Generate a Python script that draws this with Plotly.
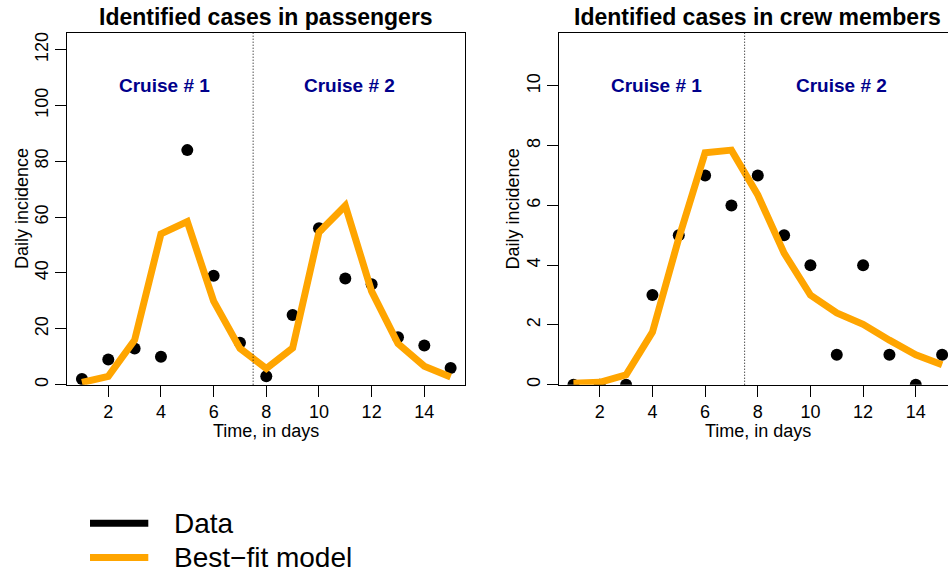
import plotly.graph_objects as go

# ---------------- data ----------------
days = list(range(1, 16))
pass_data = [2, 9, 13, 10, 84, 39, 15, 3, 25, 56, 38, 36, 17, 14, 6]
pass_model = [0.8, 3.0, 16.0, 54.0, 58.4, 29.9, 13.0, 5.8, 13.1, 54.6, 64.1, 33.4, 14.7, 6.6, 2.8]
crew_data = [0, 0, 0, 3, 5, 7, 6, 7, 5, 4, 1, 4, 1, 0, 1]
crew_model = [0.05, 0.08, 0.33, 1.76, 4.9, 7.76, 7.85, 6.35, 4.4, 3.0, 2.4, 2.02, 1.49, 1.0, 0.67]

x_ticks = [2, 4, 6, 8, 10, 12, 14]
pass_y_ticks = [0, 20, 40, 60, 80, 100, 120]
crew_y_ticks = [0, 2, 4, 6, 8, 10]

panel_titles = ["Identified cases in passengers", "Identified cases in crew members"]
x_title = "Time, in days"
y_title = "Daily incidence"
cruise_labels = ["Cruise # 1", "Cruise # 2"]
cruise_label_x = [4.15, 11.17]
cruise_split = 7.5
legend_labels = ["Data", "Best\u2212fit model"]

# ---------------- style ----------------
W, H = 948, 579
FONT = "Liberation Sans, Arial, Helvetica, sans-serif"
ORANGE = "#FFA500"
NAVY = "#00008B"

def px_x(p):
    return p / W

def px_y(p):
    return 1 - p / H

y_dom = [px_y(385.7), px_y(32.0)]
left_dom = [px_x(67.2), px_x(465.4)]
right_dom = [px_x(558.7), 1.0]

pass_top = 1.5 * max(max(pass_data), max(pass_model))
crew_top = 1.5 * max(max(crew_data), max(crew_model))

fig = go.Figure()

panels = [
    ("x", "y", pass_data, pass_model),
    ("x2", "y2", crew_data, crew_model),
]
for xa, ya, dat, mod in panels:
    fig.add_trace(go.Scatter(
        x=days, y=dat, mode="markers", xaxis=xa, yaxis=ya,
        marker=dict(color="black", size=12, line=dict(width=0)),
        showlegend=False, hoverinfo="x+y",
    ))
    fig.add_trace(go.Scatter(
        x=days, y=mod, mode="lines", xaxis=xa, yaxis=ya,
        line=dict(color=ORANGE, width=7),
        showlegend=False, hoverinfo="x+y",
    ))

axis_common = dict(
    showgrid=False, zeroline=False, showline=True, linecolor="black", linewidth=1,
    ticks="outside", ticklen=11, tickwidth=1, tickcolor="black",
    tickfont=dict(family=FONT, size=18, color="black"),
)

fig.update_layout(
    width=W, height=H,
    margin=dict(l=0, r=0, t=0, b=0),
    paper_bgcolor="white", plot_bgcolor="white",
    font=dict(family=FONT, color="black"),
    showlegend=False,
    xaxis=dict(domain=left_dom, range=[0.44, 15.56], tickvals=x_ticks, anchor="y",
               mirror=True, **axis_common),
    yaxis=dict(domain=y_dom, range=[0, pass_top], tickvals=pass_y_ticks, anchor="x",
               tickangle=-90, mirror=True, **axis_common),
    xaxis2=dict(domain=right_dom, range=[0.44, 0.44 + (W - 558.7) / 26.333], tickvals=x_ticks,
                anchor="y2", mirror=True, **axis_common),
    yaxis2=dict(domain=y_dom, range=[0, crew_top], tickvals=crew_y_ticks, anchor="x2",
                tickangle=-90, mirror=False, **axis_common),
)

# vertical dotted separators between cruises
for xr, yr in (("x", "y"), ("x2", "y2")):
    fig.add_shape(type="line", xref=xr, yref=yr + " domain", x0=cruise_split, x1=cruise_split,
                  y0=0, y1=1, line=dict(color="black", width=1, dash="1px,2px"))

# cruise labels
for xr, yr, top in (("x", "y", pass_top), ("x2", "y2", crew_top)):
    for lab, lx in zip(cruise_labels, cruise_label_x):
        fig.add_annotation(x=lx, y=0.85 * top, xref=xr, yref=yr, text="<b>%s</b>" % lab,
                           showarrow=False, xanchor="center", yanchor="middle",
                           font=dict(family=FONT, size=19, color=NAVY))

# panel titles, axis titles
centers = [(67.2 + 465.4) / 2, (558.7 + 956.7) / 2]
y_title_x = [21.3, 512.7]
for i in range(2):
    fig.add_annotation(x=px_x(centers[i]), y=px_y(16), xref="paper", yref="paper",
                       text="<b>%s</b>" % panel_titles[i], showarrow=False,
                       xanchor="center", yanchor="middle",
                       font=dict(family=FONT, size=23, color="black"))
    fig.add_annotation(x=px_x(centers[i]), y=px_y(432.5), xref="paper", yref="paper",
                       text=x_title, showarrow=False, xanchor="center", yanchor="middle",
                       font=dict(family=FONT, size=18, color="black"))
    fig.add_annotation(x=px_x(y_title_x[i]), y=px_y(208.8), xref="paper", yref="paper",
                       text=y_title, showarrow=False, textangle=-90,
                       xanchor="center", yanchor="middle",
                       font=dict(family=FONT, size=18, color="black"))

# legend (manual)
leg_colors = ["black", ORANGE]
leg_y = [525, 559.5]
for lab, col, ly in zip(legend_labels, leg_colors, leg_y):
    fig.add_shape(type="line", xref="paper", yref="paper", x0=px_x(90), x1=px_x(148.3),
                  y0=px_y(ly), y1=px_y(ly), line=dict(color=col, width=7))
    fig.add_annotation(x=px_x(172), y=px_y(ly), xref="paper", yref="paper", text=lab,
                       showarrow=False, xanchor="left", yanchor="middle",
                       font=dict(family=FONT, size=28, color="black"))

fig.write_html(
    "out.html",
    config={"displayModeBar": False},
    post_script="document.body.style.margin='0';document.body.style.padding='0';"
                "document.body.style.overflow='hidden';",
)
